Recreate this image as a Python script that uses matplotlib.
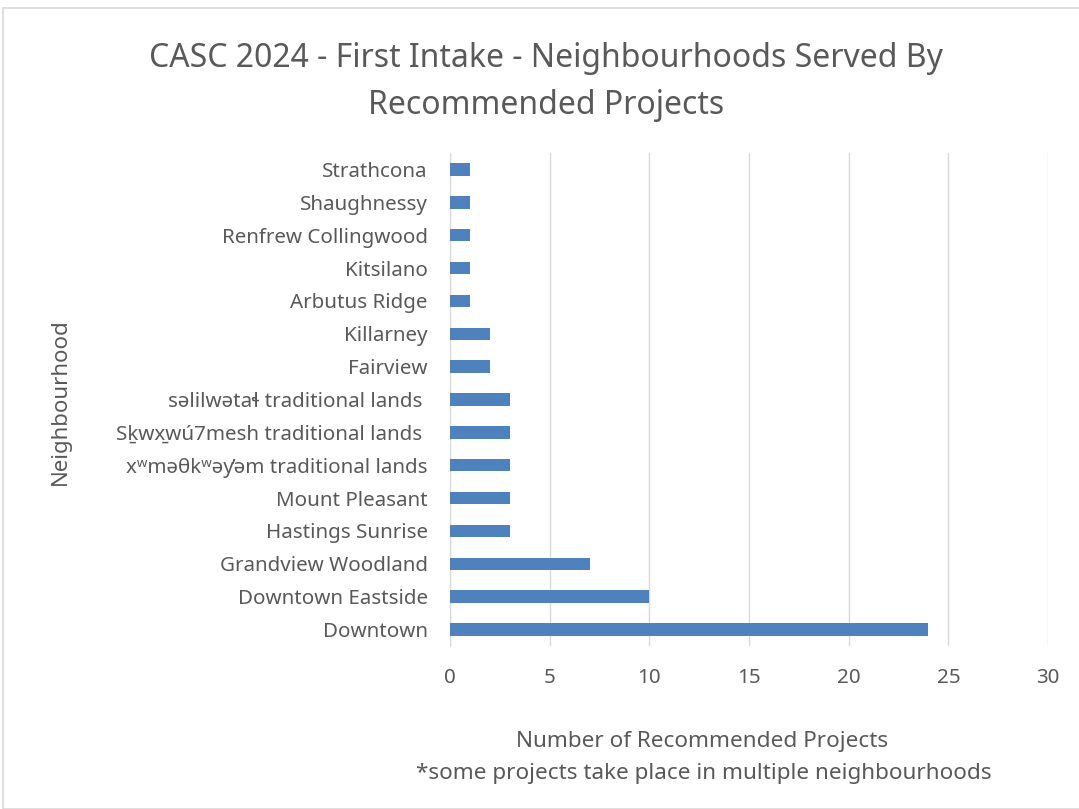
import matplotlib.pyplot as plt
from matplotlib.patches import Rectangle

plt.rcParams['font.family'] = ['Noto Sans', 'DejaVu Sans']

# data (bottom to top, as drawn)
neighbourhoods = [
    "Downtown",
    "Downtown Eastside",
    "Grandview Woodland",
    "Hastings Sunrise",
    "Mount Pleasant",
    "x\u02b7m\u0259\u03b8k\u02b7\u0259y\u0313\u0259m traditional lands",
    "S\u1e35wx\u0331w\u00fa7mesh traditional lands ",
    "s\u0259lilw\u0259ta\u026c traditional lands ",
    "Fairview",
    "Killarney",
    "Arbutus Ridge",
    "Kitsilano",
    "Renfrew Collingwood",
    "Shaughnessy",
    "Strathcona",
]
projects = [24, 10, 7, 3, 3, 3, 3, 3, 2, 2, 1, 1, 1, 1, 1]

grey = '#595959'
bar_color = '#4F81BD'

fig = plt.figure(figsize=(10.79, 8.09), dpi=100)
fig.patches.append(Rectangle((3 / 1079, 0), 1.0, 1 - 8 / 809, transform=fig.transFigure,
                             fill=False, edgecolor='#D9D9D9', linewidth=1.2))

ax = fig.add_axes([450 / 1079, 1 - 646 / 809, 598 / 1079, (646 - 153) / 809])
ax.barh(range(len(neighbourhoods)), projects, height=0.38, color=bar_color, zorder=3)

ax.set_xlim(0, 30)
ax.set_ylim(-0.5, len(neighbourhoods) - 0.5)
ax.set_xticks(range(0, 31, 5))
ax.set_yticks(range(len(neighbourhoods)))
ax.set_yticklabels(neighbourhoods)
ax.grid(axis='x', color='#D9D9D9', linewidth=1, zorder=0)
for s in ['top', 'right', 'bottom']:
    ax.spines[s].set_visible(False)
ax.spines['left'].set_color('#D9D9D9')
ax.tick_params(axis='both', length=0, labelsize=14.8, colors=grey)
ax.tick_params(axis='x', pad=16)
ax.tick_params(axis='y', pad=16)

fig.text(546 / 1079, 1 - 82 / 809, "CASC 2024 - First Intake - Neighbourhoods Served By\nRecommended Projects",
         ha='center', va='center', fontsize=23, color=grey, linespacing=1.55)
fig.text(702 / 1079, 1 - 741 / 809, "Number of Recommended Projects", ha='center', va='center',
         fontsize=16.2, color=grey)
fig.text(704 / 1079, 1 - 773 / 809, "*some projects take place in multiple neighbourhoods", ha='center',
         va='center', fontsize=16.2, color=grey)
fig.text(60 / 1079, 1 - 402 / 809, "Neighbourhood", ha='center', va='center', rotation=90,
         fontsize=16, color=grey)

fig.savefig('out.png', dpi=100)
